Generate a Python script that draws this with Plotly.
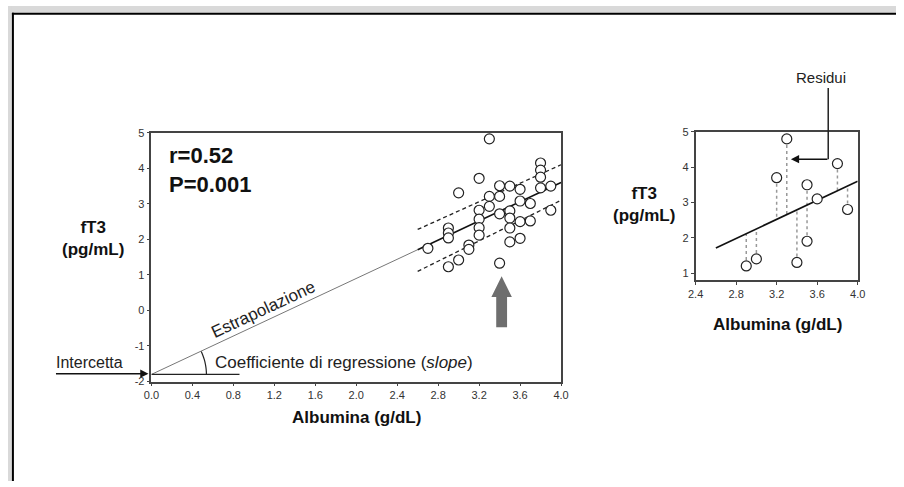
import numpy as np
import plotly.graph_objects as go

W, H = 904, 487
FONT = "Liberation Sans, Arial, sans-serif"

# ---------------- data ----------------
albumina_all = [2.7,
                2.9, 2.9, 2.9, 2.9,
                3.0, 3.0,
                3.1, 3.1,
                3.2, 3.2, 3.2, 3.2, 3.2,
                3.3, 3.3, 3.3,
                3.4, 3.4, 3.4, 3.4,
                3.5, 3.5, 3.5, 3.5, 3.5,
                3.6, 3.6, 3.6, 3.6,
                3.7, 3.7,
                3.8, 3.8, 3.8, 3.8,
                3.9, 3.9]
ft3_all = [1.75,
           2.32, 2.18, 2.04, 1.23,
           3.31, 1.42,
           1.84, 1.72,
           3.72, 2.82, 2.57, 2.33, 2.12,
           4.83, 3.21, 2.93,
           3.51, 3.21, 2.72, 1.33,
           3.50, 2.80, 2.60, 2.32, 1.93,
           3.41, 3.08, 2.50, 2.03,
           3.01, 2.52,
           4.15, 3.95, 3.75, 3.45,
           3.50, 2.82]

albumina_sub = [2.9, 3.0, 3.2, 3.3, 3.4, 3.5, 3.5, 3.6, 3.8, 3.9]
ft3_sub = [1.2, 1.4, 3.7, 4.8, 1.3, 3.5, 1.9, 3.1, 4.1, 2.8]

intercept = -1.8
slope = 1.35
extrap_x = [0.0, 2.6]
fit_x = [2.6, 4.0]
ci_x = [2.6, 4.0]
ci_upper = [2.28, 4.10]
ci_lower = [1.10, 3.10]
slope_base_x = [0.0, 0.86]

left_xticks = [0.0, 0.4, 0.8, 1.2, 1.6, 2.0, 2.4, 2.8, 3.2, 3.6, 4.0]
left_yticks = [-2, -1, 0, 1, 2, 3, 4, 5]
right_xticks = [2.4, 2.8, 3.2, 3.6, 4.0]
right_yticks = [1, 2, 3, 4, 5]


def fit(xs):
    return [intercept + slope * x for x in xs]


def px(x):
    return x / W


def py(y):
    return 1 - y / H


fig = go.Figure()

# ---------- left panel ----------
fig.add_trace(go.Scatter(x=extrap_x, y=fit(extrap_x), mode="lines",
                         line=dict(color="#777777", width=1), xaxis="x", yaxis="y"))
fig.add_trace(go.Scatter(x=slope_base_x, y=[intercept, intercept], mode="lines",
                         line=dict(color="#222222", width=1.3), xaxis="x", yaxis="y"))
fig.add_trace(go.Scatter(x=ci_x, y=ci_upper, mode="lines",
                         line=dict(color="#222222", width=1.3, dash="4px,3px"), xaxis="x", yaxis="y"))
fig.add_trace(go.Scatter(x=ci_x, y=ci_lower, mode="lines",
                         line=dict(color="#222222", width=1.3, dash="4px,3px"), xaxis="x", yaxis="y"))
fig.add_trace(go.Scatter(x=fit_x, y=fit(fit_x), mode="lines",
                         line=dict(color="#111111", width=1.6), xaxis="x", yaxis="y"))
fig.add_trace(go.Scatter(x=albumina_all, y=ft3_all, mode="markers",
                         marker=dict(size=10, color="white", line=dict(color="#222222", width=1.2)),
                         xaxis="x", yaxis="y"))

# ---------- right panel ----------
res_x, res_y = [], []
for xv, yv, fv in zip(albumina_sub, ft3_sub, fit(albumina_sub)):
    res_x += [xv, xv, None]
    res_y += [yv, fv, None]
fig.add_trace(go.Scatter(x=res_x, y=res_y, mode="lines",
                         line=dict(color="#999999", width=1.5, dash="dot"), xaxis="x2", yaxis="y2"))
fig.add_trace(go.Scatter(x=fit_x, y=fit(fit_x), mode="lines",
                         line=dict(color="#111111", width=1.6), xaxis="x2", yaxis="y2"))
fig.add_trace(go.Scatter(x=albumina_sub, y=ft3_sub, mode="markers",
                         marker=dict(size=10, color="white", line=dict(color="#222222", width=1.2)),
                         xaxis="x2", yaxis="y2"))

axis_common = dict(showline=True, mirror=True, linecolor="#444444", linewidth=1.5,
                   ticks="outside", ticklen=3, tickcolor="#444444", tickwidth=1,
                   showgrid=False, zeroline=False,
                   tickfont=dict(family=FONT, size=11, color="#333333"))

fig.update_layout(
    width=W, height=H,
    margin=dict(l=0, r=0, t=0, b=0),
    paper_bgcolor="white", plot_bgcolor="white",
    showlegend=False,
    xaxis=dict(domain=[px(146), px(563)], range=[0, 4], anchor="y",
               tickvals=left_xticks, ticktext=[f"{v:.1f}" for v in left_xticks], **axis_common),
    yaxis=dict(domain=[py(385), py(130)], range=[-2, 5], anchor="x",
               tickvals=left_yticks, ticktext=[str(v) for v in left_yticks], **axis_common),
    xaxis2=dict(domain=[px(700), px(865)], range=[2.4, 4.0], anchor="y2",
                tickvals=right_xticks, ticktext=[f"{v:.1f}" for v in right_xticks], **axis_common),
    yaxis2=dict(domain=[py(281), py(129)], range=[0.8, 5], anchor="x2",
                tickvals=right_yticks, ticktext=[str(v) for v in right_yticks], **axis_common),
)

shapes = []
# page frame (gray strip and black border)
shapes.append(dict(type="rect", xref="paper", yref="paper", x0=0, x1=1, y0=py(7), y1=1,
                   fillcolor="#d9d9d9", line=dict(width=0), layer="above"))
shapes.append(dict(type="rect", xref="paper", yref="paper", x0=0, x1=px(4), y0=0, y1=1,
                   fillcolor="#d9d9d9", line=dict(width=0), layer="above"))
shapes.append(dict(type="line", xref="paper", yref="paper", x0=px(4), x1=1, y0=py(8), y1=py(8),
                   line=dict(color="black", width=2), layer="above"))
shapes.append(dict(type="line", xref="paper", yref="paper", x0=px(5), x1=px(5), y0=py(7), y1=0,
                   line=dict(color="black", width=2), layer="above"))

# slope angle arc
cx, cy, r = 146, 378, 56
th = np.radians(np.linspace(0, 25, 14))
arc = "M " + " L ".join(f"{px(cx + r*np.cos(t)):.5f},{py(cy - r*np.sin(t)):.5f}" for t in th)
shapes.append(dict(type="path", xref="paper", yref="paper", path=arc,
                   line=dict(color="#222222", width=1.2)))

# gray up arrow
ac, tip, hb, bot, hw, sw = 3.42, 0.96, 0.38, -0.47, 0.10, 0.053
arrow = (f"M {ac-sw},{bot} L {ac-sw},{hb} L {ac-hw},{hb} L {ac},{tip} "
         f"L {ac+hw},{hb} L {ac+sw},{hb} L {ac+sw},{bot} Z")
shapes.append(dict(type="path", xref="x", yref="y", path=arrow,
                   fillcolor="#6e6e6e", line=dict(width=0)))

# residui leader line
shapes.append(dict(type="line", xref="paper", yref="paper", x0=px(835), x1=px(835),
                   y0=py(84), y1=py(157), line=dict(color="#222222", width=1.5)))

fig.update_layout(shapes=shapes)

ann = []


def text(x, y, t, size, bold=False, xanchor="center", angle=0, color="#222222"):
    ann.append(dict(xref="paper", yref="paper", x=px(x), y=py(y), text=t, showarrow=False,
                    xanchor=xanchor, yanchor="middle", textangle=angle, align="left" if xanchor == "left" else "center",
                    font=dict(family=FONT, size=size, color=color)))


text(162, 168, "<b>r=0.52<br>P=0.001</b>", 22, xanchor="left", color="#111111")
text(87, 238, "<b>fT3<br>(pg/mL)</b>", 17, color="#111111")
text(355, 422, "<b>Albumina (g/dL)</b>", 17, color="#111111")
text(647, 204, "<b>fT3<br>(pg/mL)</b>", 17, color="#111111")
text(783, 327, "<b>Albumina (g/dL)</b>", 17, color="#111111")
text(260, 311, "Estrapolazione", 17, angle=-25)
text(209, 366, "Coefficiente di regressione (<i>slope</i>)", 17, xanchor="left")
text(47, 366, "Intercetta", 16, xanchor="left")
text(828, 73, "Residui", 15)

ann.append(dict(xref="paper", yref="paper", x=px(143), y=py(377), ax=-94, ay=0,
                text="", showarrow=True, arrowhead=2, arrowsize=1.1, arrowwidth=1.5, arrowcolor="#111111"))
ann.append(dict(xref="paper", yref="paper", x=px(797), y=py(157), ax=38, ay=0,
                text="", showarrow=True, arrowhead=2, arrowsize=1.1, arrowwidth=1.5, arrowcolor="#111111"))

fig.update_layout(annotations=ann)

fig.write_html("out.html", config={"displayModeBar": False},
               post_script="document.body.style.margin='0';document.body.style.overflow='hidden';")
